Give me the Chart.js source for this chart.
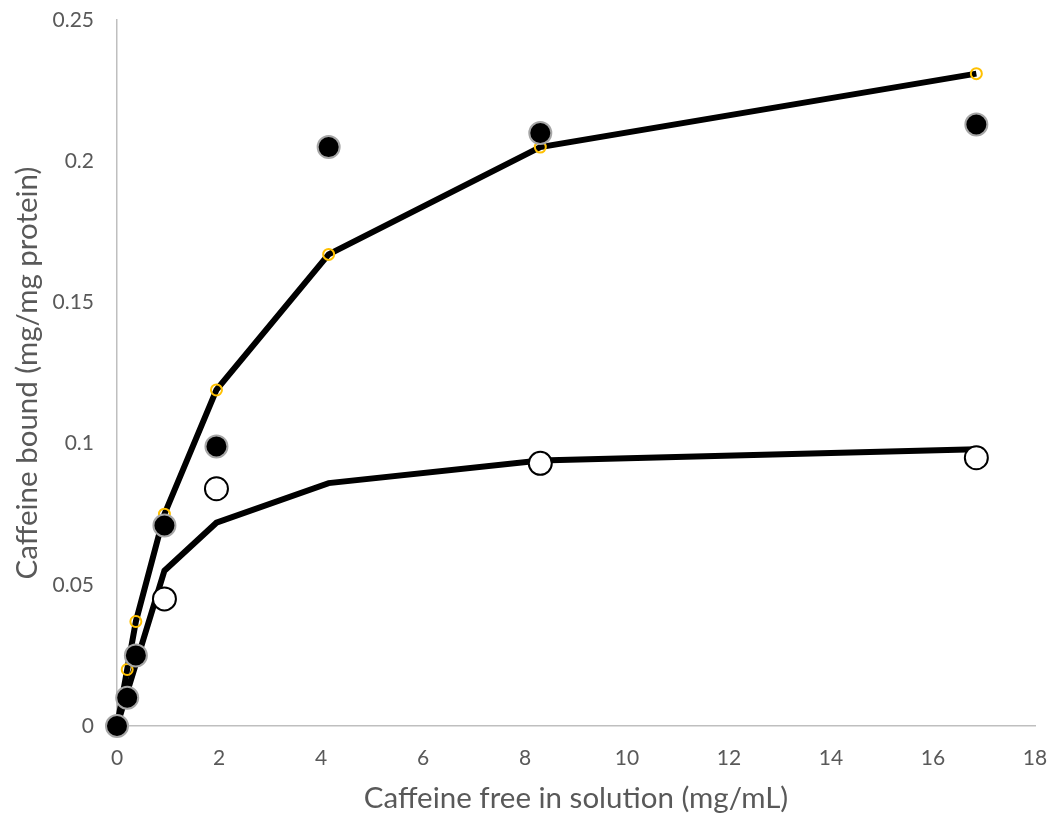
<!DOCTYPE html>
<html>
<head>
<meta charset="utf-8">
<script src="https://cdn.jsdelivr.net/npm/chart.js@4"></script>
<style>
  html, body { margin: 0; padding: 0; background: #fff; }
  #wrap { width: 1054px; height: 816px; }
</style>
</head>
<body>
<div id="wrap"><canvas id="chart-1" width="1054" height="816"></canvas></div>
<script>
// measured data (mg/mL free, mg/mg protein bound)
var freeX = [0, 0.2, 0.37, 0.93, 1.95, 4.15, 8.3, 16.85];
var boundFilled = [0, 0.01, 0.025, 0.071, 0.099, 0.205, 0.21, 0.213];

var openX = [0.93, 1.95, 8.3, 16.85];
var boundOpen = [0.045, 0.084, 0.093, 0.095];

// fitted curves
var fitUpper = [0, 0.02, 0.037, 0.075, 0.119, 0.167, 0.205, 0.231];
var fitLower = [0, 0.012, 0.022, 0.055, 0.072, 0.086, 0.094, 0.098];

var xTicks = [0, 2, 4, 6, 8, 10, 12, 14, 16, 18];

function toPoints(xs, ys) {
  return xs.map(function (x, i) {
    return { x: x, y: ys[i] };
  });
}

var tickFont = { family: "Lato, 'Open Sans', sans-serif", size: 21 };
var titleFont = { family: "Lato, 'Open Sans', sans-serif", size: 29.5 };

const ctx1 = document.getElementById("chart-1").getContext("2d");
const myChart = new Chart(ctx1, {
  type: "scatter",
  data: {
    datasets: [
      {
        label: "Bound (filled)",
        data: toPoints(freeX, boundFilled),
        pointRadius: 11,
        pointBackgroundColor: "#000000",
        pointBorderColor: "#a6a6a6",
        pointBorderWidth: 2,
        showLine: false,
        order: 0,
        clip: false,
      },
      {
        label: "Bound (open)",
        data: toPoints(openX, boundOpen),
        pointRadius: 11.5,
        pointBackgroundColor: "#ffffff",
        pointBorderColor: "#000000",
        pointBorderWidth: 2,
        showLine: false,
        order: 1,
        clip: false,
      },
      {
        label: "Fit upper",
        data: toPoints(freeX, fitUpper),
        showLine: true,
        borderColor: "#000000",
        borderWidth: 6,
        pointRadius: function (c) { return c.dataIndex === 0 ? 0 : 5.5; },
        pointBackgroundColor: "rgba(0,0,0,0)",
        pointBorderColor: "#ffc000",
        pointBorderWidth: 2,
        order: 2,
        clip: false,
      },
      {
        label: "Fit lower",
        data: toPoints(freeX, fitLower),
        showLine: true,
        borderColor: "#000000",
        borderWidth: 6,
        pointRadius: 0,
        order: 3,
        clip: false,
      },
    ],
  },
  options: {
    responsive: false,
    animation: false,
    layout: { padding: { left: 10, right: 19, top: 20, bottom: 0 } },
    plugins: {
      legend: { display: false },
      tooltip: { enabled: false },
    },
    scales: {
      x: {
        type: "linear",
        min: 0,
        max: 18,
        afterBuildTicks: function (axis) {
          axis.ticks = xTicks.map(function (v) { return { value: v }; });
        },
        afterFit: function (scale) {
          scale.height = 90;
          scale.paddingLeft = 0;
          scale.paddingRight = 0;
        },
        grid: { display: false, drawTicks: false },
        border: { display: true, color: "#bfbfbf", width: 1.5 },
        ticks: { color: "#595959", font: tickFont, padding: 20 },
        title: {
          display: true,
          text: "Caffeine free in solution (mg/mL)",
          color: "#595959",
          font: titleFont,
          padding: { top: 10, bottom: 0 },
        },
      },
      y: {
        type: "linear",
        min: 0,
        max: 0.25,
        afterFit: function (scale) {
          scale.width = 107;
          scale.paddingTop = 0;
          scale.paddingBottom = 0;
        },
        ticks: {
          stepSize: 0.05,
          color: "#595959",
          font: tickFont,
          padding: 23,
          callback: function (v) { return String(+v.toFixed(2)); },
        },
        grid: { display: false, drawTicks: false },
        border: { display: true, color: "#bfbfbf", width: 1.5 },
        title: {
          display: true,
          text: "Caffeine bound (mg/mg protein)",
          color: "#595959",
          font: titleFont,
          padding: { top: 0, bottom: 6 },
        },
      },
    },
  },
});
</script>
</body>
</html>
